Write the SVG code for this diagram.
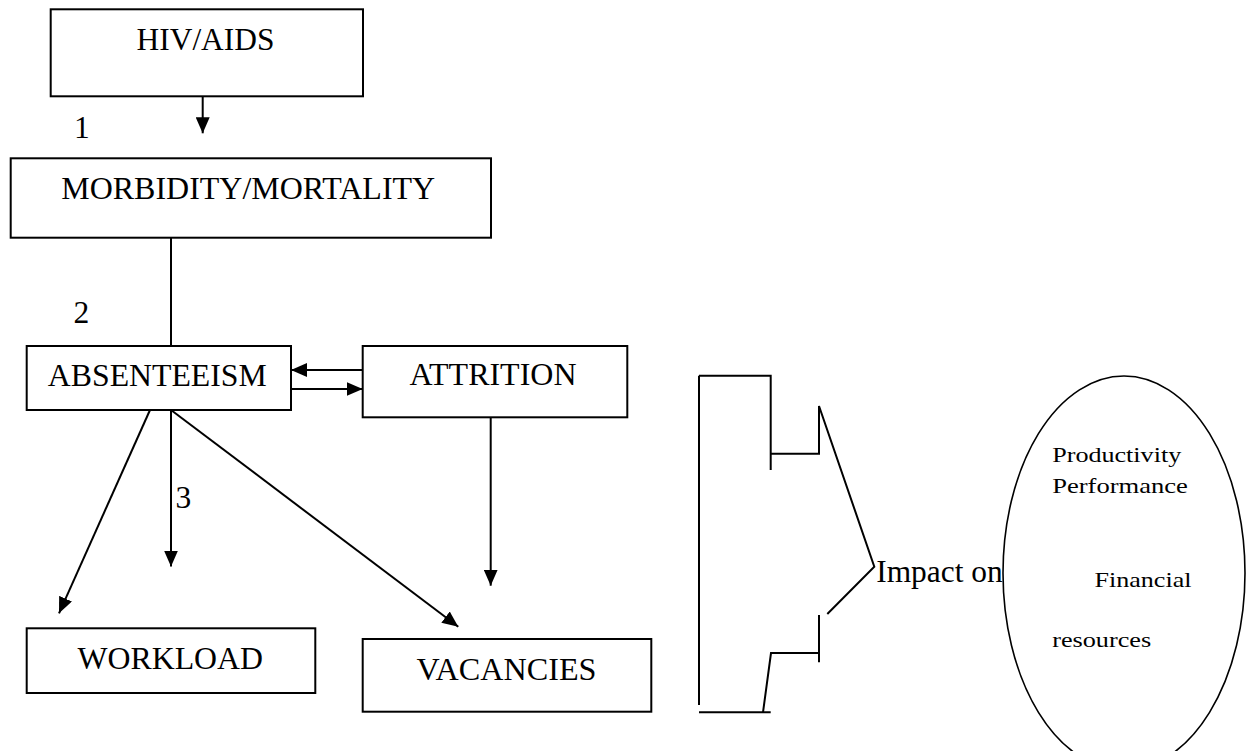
<svg xmlns="http://www.w3.org/2000/svg" width="1248" height="751" viewBox="0 0 1248 751">
<style>
.box{fill:#fff;stroke:#000;stroke-width:2}
.ln{fill:none;stroke:#000;stroke-width:2}
.t{font-family:"Liberation Serif","Times New Roman",serif;font-size:31.5px;fill:#000}
.s{font-family:"Liberation Serif","Times New Roman",serif;font-size:21.5px;fill:#000}
</style>
<defs>
<marker id="ah" markerUnits="userSpaceOnUse" markerWidth="16" markerHeight="14" refX="16" refY="7" orient="auto">
<path d="M0,0 L16,7 L0,14 z" fill="#000"/>
</marker>
</defs>
<rect width="1248" height="751" fill="#fff"/>
<g id="connectors">
<line class="ln" x1="202.7" y1="87" x2="202.7" y2="133.3" marker-end="url(#ah)"/>
<line class="ln" x1="171" y1="237.7" x2="171" y2="346"/>
<line class="ln" x1="362.7" y1="370" x2="291" y2="370" marker-end="url(#ah)"/>
<line class="ln" x1="291" y1="389" x2="362.7" y2="389" marker-end="url(#ah)"/>
<line class="ln" x1="150" y1="410" x2="59" y2="613.3" marker-end="url(#ah)"/>
<line class="ln" x1="171" y1="410" x2="171" y2="566.5" marker-end="url(#ah)"/>
<line class="ln" x1="171" y1="410" x2="458.3" y2="626.7" marker-end="url(#ah)"/>
<line class="ln" x1="490.7" y1="417.3" x2="490.7" y2="585.7" marker-end="url(#ah)"/>
</g>
<g id="hiv">
<rect class="box" x="50.7" y="9.3" width="312.3" height="87"/>
<text class="t" x="136.5" y="50" textLength="138" lengthAdjust="spacingAndGlyphs">HIV/AIDS</text>
</g>
<g id="morbidity">
<rect class="box" x="10.7" y="158.3" width="480.3" height="79.4"/>
<text class="t" x="61.2" y="199.3" textLength="374" lengthAdjust="spacingAndGlyphs">MORBIDITY/MORTALITY</text>
</g>
<g id="absenteeism">
<rect class="box" x="26.7" y="346" width="264.3" height="64"/>
<text class="t" x="47.8" y="386" textLength="219" lengthAdjust="spacingAndGlyphs">ABSENTEEISM</text>
</g>
<g id="attrition">
<rect class="box" x="362.7" y="346" width="264.6" height="71.3"/>
<text class="t" x="409.5" y="385" textLength="167" lengthAdjust="spacingAndGlyphs">ATTRITION</text>
</g>
<g id="workload">
<rect class="box" x="26.7" y="628.3" width="288.6" height="64.7"/>
<text class="t" x="77.5" y="669" textLength="185.5" lengthAdjust="spacingAndGlyphs">WORKLOAD</text>
</g>
<g id="vacancies">
<rect class="box" x="362.7" y="639" width="288.6" height="72.7"/>
<text class="t" x="416.5" y="680" textLength="180" lengthAdjust="spacingAndGlyphs">VACANCIES</text>
</g>
<g id="labels">
<text class="t" x="74" y="138.3">1</text>
<text class="t" x="73.5" y="323.3">2</text>
<text class="t" x="175.5" y="508.3">3</text>
</g>
<g id="bracket">
<polyline class="ln" points="699,375.7 770.7,375.7 770.7,470"/>
<line class="ln" x1="699" y1="375.7" x2="699" y2="705"/>
<polyline class="ln" points="770.7,453.7 819,453.7 819,406 874.3,566.7 827.3,614"/>
<line class="ln" x1="819" y1="615" x2="819" y2="662.3"/>
<polyline class="ln" points="819,653 771,653 763,712.3"/>
<line class="ln" x1="699" y1="712.3" x2="770.7" y2="712.3"/>
<text class="t" x="876.2" y="581.7" textLength="126.5" lengthAdjust="spacingAndGlyphs">Impact on</text>
</g>
<g id="impact">
<ellipse cx="1124" cy="573" rx="121" ry="197" fill="none" stroke="#000" stroke-width="1.6"/>
<text class="s" x="1052.2" y="462.3" textLength="129" lengthAdjust="spacingAndGlyphs">Productivity</text>
<text class="s" x="1052.2" y="493.3" textLength="135.7" lengthAdjust="spacingAndGlyphs">Performance</text>
<text class="s" x="1094.5" y="586.7" textLength="97" lengthAdjust="spacingAndGlyphs">Financial</text>
<text class="s" x="1052.2" y="646.7" textLength="99" lengthAdjust="spacingAndGlyphs">resources</text>
</g>
</svg>
